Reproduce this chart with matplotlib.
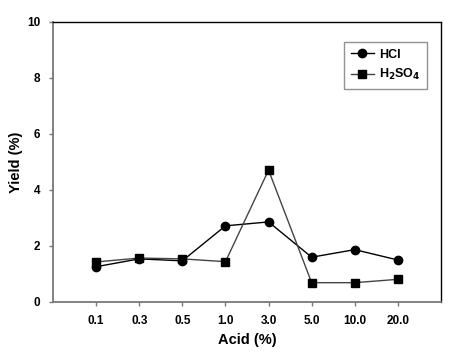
import matplotlib
matplotlib.use("Agg")
import matplotlib.pyplot as plt

categories = ["0.1", "0.3", "0.5", "1.0", "3.0", "5.0", "10.0", "20.0"]
hcl = [1.26, 1.54, 1.47, 2.72, 2.86, 1.60, 1.87, 1.50]
h2so4 = [1.43, 1.57, 1.54, 1.44, 4.71, 0.69, 0.69, 0.81]
yticks = [0, 2, 4, 6, 8, 10]

plt.rcParams['font.family'] = ['Liberation Sans', 'DejaVu Sans']
plt.rcParams['font.weight'] = 'bold'

fig = plt.figure(figsize=(4.55, 3.61), dpi=100)
ax = fig.add_axes([53/455, 1-302/361, (441-53)/455, (302-22)/361])

x = list(range(1, len(categories) + 1))
ax.plot(x, hcl, color='black', lw=1.0, marker='o', ms=6, mfc='black', mec='black', label='HCl')
ax.plot(x, h2so4, color='#444444', lw=1.0, marker='s', ms=6, mfc='black', mec='black', label='H$_\\mathbf{2}$SO$_\\mathbf{4}$')

ax.set_xlim(0, 9)
ax.set_ylim(0, 10)
ax.set_xticks(x)
ax.set_xticklabels(categories)
ax.set_yticks(yticks)
for lab in ax.get_xticklabels() + ax.get_yticklabels():
    lab.set_fontweight('bold')
    lab.set_fontsize(8.5)
ax.tick_params(direction='out', length=3, width=1, color='#777777', pad=6)

for s in ['left', 'bottom']:
    ax.spines[s].set_color('#777777')
    ax.spines[s].set_linewidth(1.3)
for s in ['top', 'right']:
    ax.spines[s].set_color('black')
    ax.spines[s].set_linewidth(1.0)

ax.set_xlabel('Acid (%)', fontsize=10.5, fontweight='bold')
ax.xaxis.set_label_coords(0.5, -(340 - 302) / 280, transform=ax.transAxes)
ax.xaxis.label.set_va('center')
ax.set_ylabel('Yield (%)', fontsize=10.5, fontweight='bold')
ax.yaxis.set_label_coords(-(53 - 16) / 388, 0.5, transform=ax.transAxes)
ax.yaxis.label.set_va('center')

leg = ax.legend(loc='upper right', bbox_to_anchor=(0.964, 0.929), borderaxespad=0,
                frameon=True, fancybox=False, edgecolor='#777777', handlelength=1.9,
                handletextpad=0.35, borderpad=0.55, labelspacing=0.5,
                prop={'weight': 'bold', 'size': 9})
leg.get_frame().set_linewidth(1.0)

fig.savefig('out.png', dpi=100)
